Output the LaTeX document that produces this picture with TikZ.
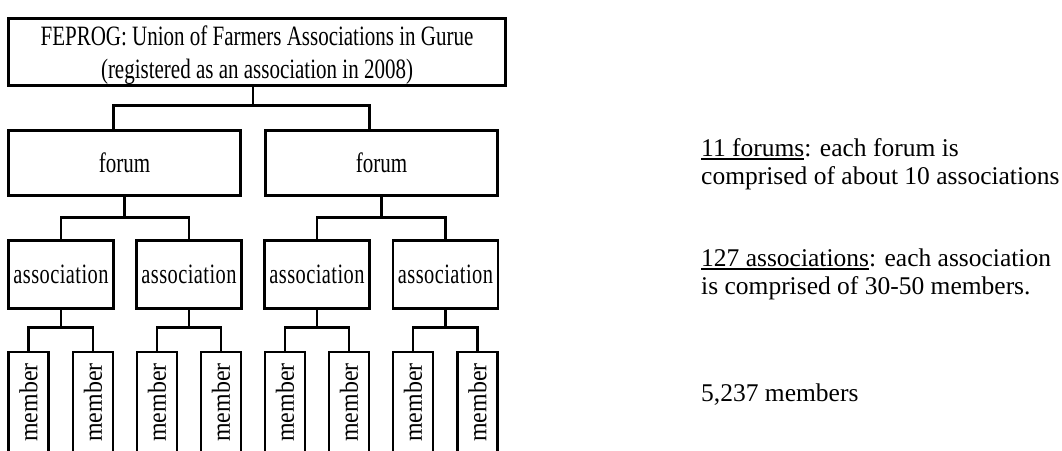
\documentclass[tikz,border=0pt]{standalone}
\usepackage{fontspec}
\setmainfont{Liberation Serif}
\newfontfamily\condfont[FakeStretch=0.75]{Liberation Serif}
\newfontfamily\assocfont[FakeStretch=0.73,LetterSpace=1.5]{Liberation Serif}
\newfontfamily\memberfont[FakeStretch=0.92]{Liberation Serif}
\newfontfamily\notefont{Liberation Serif}
\usetikzlibrary{calc}
\newcommand\myul[1]{\setbox0\hbox{#1}\rlap{\rule[-3.5pt]{\wd0}{1.8pt}}\box0}
\begin{document}
\begin{tikzpicture}[x=1pt,y=-1pt,
  box/.style={draw, line width=2.6pt, inner sep=0pt, outer sep=0pt, align=center},
  conn/.style={draw, line width=2.6pt},
  topbox/.style={box, minimum width=497, minimum height=67, font=\condfont\fontsize{28}{33}\selectfont},
  forumbox/.style={box, minimum width=232, minimum height=65, font=\condfont\fontsize{28}{30}\selectfont},
  assocbox/.style={box, minimum width=105, minimum height=68, font=\assocfont\fontsize{28}{30}\selectfont},
  memberbox/.style={box, minimum width=40, minimum height=101, font=\memberfont\fontsize{26}{28}\selectfont},
  note/.style={anchor=base west, inner sep=0pt, font=\notefont\fontsize{25.5}{28.5}\selectfont}]
\useasboundingbox (0,0) rectangle (1062,450);
\clip (0,0) rectangle (1062,450);

\node[topbox] (top) at (257,52) {\raisebox{-3pt}[\height][\depth]{\begin{tabular}{@{}c@{}}FEPROG: Union of Farmers Associations in Gurue\\(registered as an association in 2008)\end{tabular}}};

\node[forumbox] (f1) at (124.5,163) {forum};
\node[forumbox] (f2) at (381.5,163) {forum};

\node[assocbox] (a1) at (61,274.5) {association};
\node[assocbox] (a2) at (189,274.5) {association};
\node[assocbox] (a3) at (317,274.5) {association};
\node[assocbox] (a4) at (445.5,274.5) {association};

\node[memberbox] (m1) at (28.5,402.5) {\rotatebox{90}{member}};
\node[memberbox] (m2) at (93,402.5) {\rotatebox{90}{member}};
\node[memberbox] (m3) at (157,402.5) {\rotatebox{90}{member}};
\node[memberbox] (m4) at (221,402.5) {\rotatebox{90}{member}};
\node[memberbox] (m5) at (285,402.5) {\rotatebox{90}{member}};
\node[memberbox] (m6) at (349,402.5) {\rotatebox{90}{member}};
\node[memberbox] (m7) at (413,402.5) {\rotatebox{90}{member}};
\node[memberbox] (m8) at (477.5,402.5) {\rotatebox{90}{member}};

% top -> forums
\coordinate (b0) at ($([xshift=-4pt]top.south)+(0,20)$);
\draw[conn] ([xshift=-4pt]top.south) -- (b0);
\draw[conn] ([xshift=-11pt]f1.north) |- (b0) -| ([xshift=-12pt]f2.north);

% forums -> associations
\coordinate (fb1) at ($(f1.south)+(0,22)$);
\coordinate (fb2) at ($(f2.south)+(0,22)$);
\draw[conn] (f1.south) -- (fb1);
\draw[conn] (f2.south) -- (fb2);
\draw[conn] (a1.north) |- (fb1) -| (a2.north);
\draw[conn] (a3.north) |- (fb2) -| (a4.north);

% associations -> members
\foreach \a/\p/\q in {a1/m1/m2, a2/m3/m4, a3/m5/m6, a4/m7/m8}{
  \coordinate (ab) at ($(\a.south)+(0,19)$);
  \draw[conn] (\a.south) -- (ab);
  \draw[conn] (\p.north) |- (ab) -| (\q.north);
}

\node[note] (t1) at (701,156) {\begin{tabular}[t]{@{}l@{}}\myul{11 forums}: each forum is\\comprised of about 10 associations\end{tabular}};
\node[note] (t2) at (701,266) {\begin{tabular}[t]{@{}l@{}}\myul{127 associations}: each association\\is comprised of 30-50 members.\end{tabular}};
\node[note] (t3) at (701,401) {5,237 members};
\end{tikzpicture}
\end{document}
